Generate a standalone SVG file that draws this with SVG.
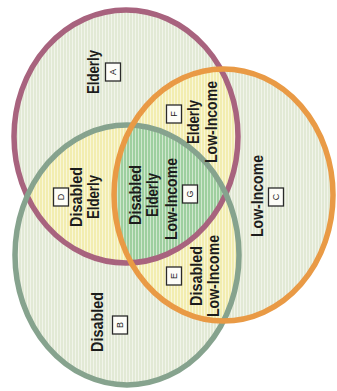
<svg xmlns="http://www.w3.org/2000/svg" width="337" height="391" viewBox="0 0 337 391">
<defs>
<style>
.lbl{font-family:"Liberation Sans Narrow","Liberation Sans",Arial,sans-serif;font-weight:bold;font-size:16.5px;fill:#1c1c1c;text-anchor:middle}
.box rect{fill:#fdfdf8;stroke:#2a2a2a;stroke-width:1.3}
.box text{font-family:"Liberation Sans",Arial,sans-serif;font-size:9px;fill:#222;text-anchor:middle}
.ring{fill:none;stroke-width:5.5}
</style>
<pattern id="stripes" width="3" height="10" patternUnits="userSpaceOnUse"><rect x="0" y="0" width="1" height="10" fill="#ffffff" opacity="0.5"/></pattern>
<ellipse id="eA" cx="126" cy="136.5" rx="112" ry="126.5"/>
<ellipse id="eB" cx="127" cy="255" rx="112" ry="130"/>
<ellipse id="eC" cx="223.5" cy="195" rx="109.5" ry="126"/>
<clipPath id="cA"><use href="#eA"/></clipPath>
<clipPath id="cB"><use href="#eB"/></clipPath>
<clipPath id="cU"><use href="#eA"/><use href="#eB"/><use href="#eC"/></clipPath>
</defs>
<rect width="337" height="391" fill="#ffffff"/>
<g id="fills">
<use href="#eA" fill="#e2e9d5"/>
<use href="#eB" fill="#e2e9d5"/>
<use href="#eC" fill="#e2e9d5"/>
<g clip-path="url(#cA)"><use href="#eB" fill="#f2edb0"/><use href="#eC" fill="#f2edb0"/></g>
<g clip-path="url(#cB)"><use href="#eC" fill="#f2edb0"/></g>
<g clip-path="url(#cA)"><g clip-path="url(#cB)"><use href="#eC" fill="#9ecf9f"/></g></g>
<rect width="337" height="391" fill="url(#stripes)" clip-path="url(#cU)"/>
</g>
<g id="set-elderly"><use href="#eA" class="ring" stroke="#a8637e"/></g>
<g id="set-disabled"><use href="#eB" class="ring" stroke="#86a38e"/></g>
<g id="set-lowincome"><use href="#eC" class="ring" stroke="#e99a45"/></g>

<g id="region-A">
<text class="lbl" transform="translate(99,72) rotate(-90)" textLength="44" lengthAdjust="spacingAndGlyphs">Elderly</text>
<g class="box" transform="translate(113,72) rotate(-90)"><rect x="-9" y="-7.5" width="18" height="15"/><text y="3">A</text></g>
</g>
<g id="region-B">
<text class="lbl" transform="translate(103,322) rotate(-90)" textLength="60" lengthAdjust="spacingAndGlyphs">Disabled</text>
<g class="box" transform="translate(120,325) rotate(-90)"><rect x="-9" y="-7.5" width="18" height="15"/><text y="3">B</text></g>
</g>
<g id="region-C">
<text class="lbl" transform="translate(263,196) rotate(-90)" textLength="82" lengthAdjust="spacingAndGlyphs">Low-Income</text>
<g class="box" transform="translate(276,197) rotate(-90)"><rect x="-9" y="-7.5" width="18" height="15"/><text y="3">C</text></g>
</g>
<g id="region-D">
<g class="box" transform="translate(61,197) rotate(-90)"><rect x="-9" y="-7.5" width="18" height="15"/><text y="3">D</text></g>
<text class="lbl" transform="translate(82,197) rotate(-90)" textLength="60" lengthAdjust="spacingAndGlyphs">Disabled</text>
<text class="lbl" transform="translate(99,197) rotate(-90)" textLength="44" lengthAdjust="spacingAndGlyphs">Elderly</text>
</g>
<g id="region-G">
<text class="lbl" transform="translate(141,195) rotate(-90)" textLength="60" lengthAdjust="spacingAndGlyphs">Disabled</text>
<text class="lbl" transform="translate(158,195) rotate(-90)" textLength="44" lengthAdjust="spacingAndGlyphs">Elderly</text>
<text class="lbl" transform="translate(177,199) rotate(-90)" textLength="82" lengthAdjust="spacingAndGlyphs">Low-Income</text>
<g class="box" transform="translate(190,194) rotate(-90)"><rect x="-9" y="-7.5" width="18" height="15"/><text y="3">G</text></g>
</g>
<g id="region-F">
<g class="box" transform="translate(174,114) rotate(-90)"><rect x="-9" y="-7.5" width="18" height="15"/><text y="3">F</text></g>
<text class="lbl" transform="translate(199,122) rotate(-90)" textLength="44" lengthAdjust="spacingAndGlyphs">Elderly</text>
<text class="lbl" transform="translate(217,122) rotate(-90)" textLength="82" lengthAdjust="spacingAndGlyphs">Low-Income</text>
</g>
<g id="region-E">
<g class="box" transform="translate(174,276) rotate(-90)"><rect x="-9" y="-7.5" width="18" height="15"/><text y="3">E</text></g>
<text class="lbl" transform="translate(202,276) rotate(-90)" textLength="60" lengthAdjust="spacingAndGlyphs">Disabled</text>
<text class="lbl" transform="translate(219,276) rotate(-90)" textLength="82" lengthAdjust="spacingAndGlyphs">Low-Income</text>
</g>
</svg>
